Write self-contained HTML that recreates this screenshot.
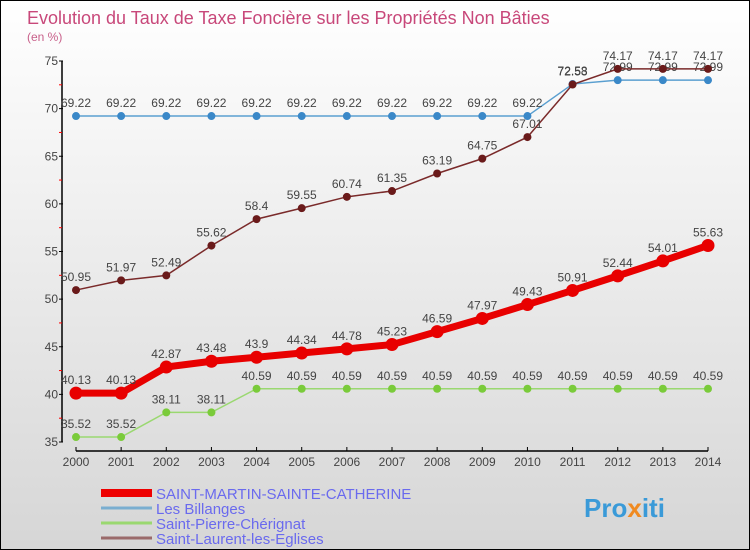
<!DOCTYPE html>
<html><head><meta charset="utf-8"><style>
body{margin:0}
#c{width:748px;height:548px;border:1px solid #000;background:linear-gradient(#fff,#d6d6d6);position:relative;font-family:"Liberation Sans",sans-serif;overflow:hidden}
text{font-family:"Liberation Sans",sans-serif}
</style></head><body>
<div id="c">
<svg id="s" width="748" height="548">
<text x="26" y="23" font-size="18" fill="#c8487a">Evolution du Taux de Taxe Foncière sur les Propriétés Non Bâties</text>
<text x="26" y="40" font-size="12" fill="#c8608a">(en %)</text>
<g id="g"></g>
<g>
<line x1="100" y1="492" x2="151" y2="492" stroke="#e00" stroke-width="8"/>
<text x="155" y="498" font-size="15" fill="#6a6aee">SAINT-MARTIN-SAINTE-CATHERINE</text>
<line x1="100" y1="507" x2="151" y2="507" stroke="#7aaed0" stroke-width="3"/>
<text x="155" y="513" font-size="15" fill="#6a6aee">Les Billanges</text>
<line x1="100" y1="522" x2="151" y2="522" stroke="#9ad870" stroke-width="3"/>
<text x="155" y="528" font-size="15" fill="#6a6aee">Saint-Pierre-Chérignat</text>
<line x1="100" y1="537" x2="151" y2="537" stroke="#9a6a6a" stroke-width="3"/>
<text x="155" y="543" font-size="15" fill="#6a6aee">Saint-Laurent-les-Eglises</text>
</g>
<text x="583" y="516" font-size="26" font-weight="bold" fill="#3a9ad8">Pro<tspan fill="#f08a20">x</tspan>iti</text>
</svg>
</div>
<script>
const years=[2000,2001,2002,2003,2004,2005,2006,2007,2008,2009,2010,2011,2012,2013,2014];
const yTicks=[35,40,45,50,55,60,65,70,75];
const martin=[40.13,40.13,42.87,43.48,43.9,44.34,44.78,45.23,46.59,47.97,49.43,50.91,52.44,54.01,55.63];
const billanges=[69.22,69.22,69.22,69.22,69.22,69.22,69.22,69.22,69.22,69.22,69.22,72.58,72.99,72.99,72.99];
const pierre=[35.52,35.52,38.11,38.11,40.59,40.59,40.59,40.59,40.59,40.59,40.59,40.59,40.59,40.59,40.59];
const laurent=[50.95,51.97,52.49,55.62,58.4,59.55,60.74,61.35,63.19,64.75,67.01,72.53,74.17,74.17,74.17];
const NS="http://www.w3.org/2000/svg",g=document.getElementById('g');
const X=i=>75+i*(707-75)/(years.length-1);
const Y=v=>441-(v-35)*(441-60)/40;
function mk(t,a){const e=document.createElementNS(NS,t);for(const k in a)e.setAttribute(k,a[k]);g.appendChild(e);return e;}
let ax=mk('line',{x1:61,y1:60,x2:61,y2:441,stroke:'#000','stroke-width':1.5});


let bx=mk('line',{x1:75,y1:450,x2:707,y2:450,stroke:'#000','stroke-width':1.5});


yTicks.forEach(v=>{
 let t=mk('line',{x1:58,x2:62,y1:Y(v),y2:Y(v),stroke:'#000'});
 
 
 let l=mk('text',{x:57,y:Y(v)+4,'font-size':12,fill:'#444','text-anchor':'end'});l.textContent=v;
 
 
 if(v<75){let r=mk('line',{x1:58,x2:61,y1:Y(v+2.5),y2:Y(v+2.5),stroke:'#f00'});
 
 }
});
years.forEach((yr,i)=>{
 let t=mk('line',{x1:X(i),x2:X(i),y1:446,y2:450,stroke:'#000'});
 
 
 let l=mk('text',{x:X(i),y:465,'font-size':12,fill:'#444','text-anchor':'middle'});l.textContent=yr;
 
 
});
function series(d,col,dot,w,r,name){
 let p=mk('polyline',{points:d.map((v,i)=>X(i)+','+Y(v)).join(' '),fill:'none',stroke:col,'stroke-width':w});
 
 
 d.forEach((v,i)=>{
  let c=mk('circle',{cx:X(i),cy:Y(v),r:r,fill:dot});
  
  
  let l=mk('text',{x:X(i),y:Y(v)-9,'font-size':12,fill:'#444','text-anchor':'middle'});l.textContent=v;
  
  
 });
}
series(pierre,'#9ad870','#7acb3a',1.5,4,'saint-pierre');
series(billanges,'#5a9fd0','#3a88c8',1.5,4,'billanges');
series(laurent,'#7a2a2a','#6a1a1a',1.5,4,'saint-laurent');
series(martin,'#e80000','#e80000',7,6.5,'saint-martin');
</script>
</body></html>
